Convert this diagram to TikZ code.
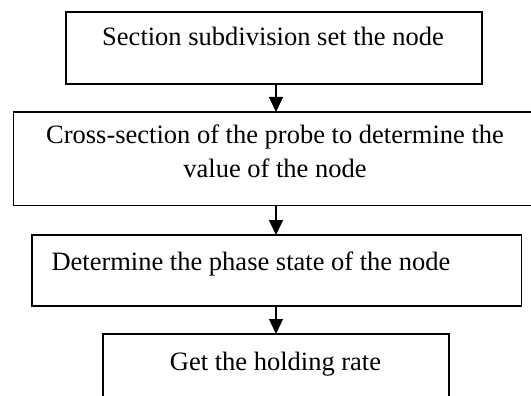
\documentclass[tikz,border=0pt]{standalone}
\usepackage{fontspec}
\setmainfont{Liberation Serif}
\usetikzlibrary{arrows.meta}
\begin{document}
\begin{tikzpicture}[x=1pt,y=-1pt,
  box/.style={draw=black,line width=1.8pt,fill=white,inner sep=0pt,outer sep=0pt},
  lbl/.style={inner sep=0pt,outer sep=0pt,font=\fontsize{26.5}{34}\selectfont},
  flow/.style={line width=1.3pt,-{Triangle[width=14pt,length=15pt]}}]
\fill[white] (0,0) rectangle (531,396);
\useasboundingbox (0,0) rectangle (531,396);
\clip (0,0) rectangle (531,396);
\node[box,minimum width=416pt,minimum height=72pt] (b1) at (274,48) {};
\node[box,minimum width=546pt,minimum height=93.5pt] (b2) at (286.5,158.75) {};
\node[box,minimum width=489.5pt,minimum height=71pt] (b3) at (276.75,270.5) {};
\node[box,minimum width=346pt,minimum height=76pt] (b4) at (276,372) {};
\node[lbl,anchor=base] (t1) at (273,45.7) {Section subdivision set the node};
\node[lbl,anchor=base,align=center] (t2) at (275,177) {Cross-section of the probe to determine the\\value of the node};
\node[lbl,anchor=base west] (t3) at (51.5,270) {Determine the phase state of the node};
\node[lbl,anchor=base] (t4) at (275.5,370.7) {Get the holding rate};
\coordinate (ax) at (276,0);
\draw[flow] (ax |- b1.south) -- (ax |- b2.north);
\draw[flow] (ax |- b2.south) -- (ax |- b3.north);
\draw[flow] (ax |- b3.south) -- (ax |- b4.north);
\end{tikzpicture}
\end{document}
